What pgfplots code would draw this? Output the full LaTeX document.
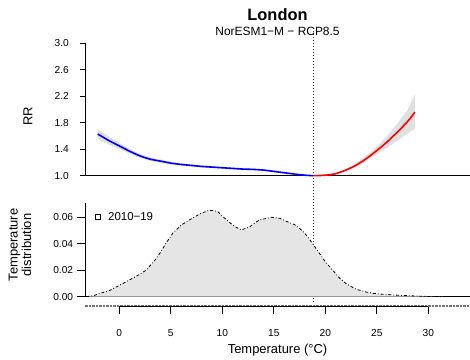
\documentclass[border=0pt]{standalone}
\usepackage{fontspec}
\setmainfont{Liberation Sans}
\usepackage{pgfplots}
\pgfplotsset{compat=1.18}
\usepgfplotslibrary{fillbetween}
\definecolor{band}{RGB}{224,224,224}
\definecolor{dens}{RGB}{229,229,229}
\pgfplotsset{
  common/.style={
    scale only axis, width=385bp,
    xmin=-3.33, xmax=34.05,
    /pgf/number format/assume math mode=true,
    tick align=outside,
    tick style={black, line width=0.8bp},
    axis line style={-, black, line width=0.8bp},
    clip=false,
    ticklabel style={font=\fontsize{10.2}{12}\selectfont, inner sep=0pt},
  }
}
\begin{document}
\begin{tikzpicture}[x=1bp,y=1bp]

% ---------------- top panel: RR ----------------
\begin{axis}[common,
  at={(85bp,183.3bp)}, anchor=south west,
  height=132.4bp, ymin=1, ymax=3,
  axis x line*=bottom, axis y line*=left,
  xtick=\empty,
  ytick={1.0,1.4,1.8,2.2,2.6,3.0},
  major tick length=5bp,
  yticklabel style={anchor=east, xshift=-11bp, /pgf/number format/fixed, /pgf/number format/fixed zerofill, /pgf/number format/precision=1},
]
% blue CI
\addplot[name path=bu, draw=none] coordinates {
(-2.1,1.71) (-1,1.59) (0,1.495) (1,1.405) (2,1.33) (3,1.275) (4,1.242) (5,1.21) (6,1.188) (7,1.171) (8,1.155) (9,1.144) (10,1.133) (11,1.122) (12,1.112) (13,1.106) (14,1.096) (15,1.074) (16,1.053) (17,1.031) (18,1.011) (18.8,1.0)};
\addplot[name path=bl, draw=none] coordinates {
(-2.1,1.55) (-1,1.47) (0,1.405) (1,1.335) (2,1.27) (3,1.225) (4,1.198) (5,1.17) (6,1.152) (7,1.139) (8,1.125) (9,1.116) (10,1.107) (11,1.098) (12,1.088) (13,1.084) (14,1.074) (15,1.056) (16,1.037) (17,1.019) (18,1.005) (18.8,1.0)};
\addplot[band] fill between[of=bu and bl];
% red CI
\addplot[name path=ru, draw=none] coordinates {
(18.8,1.0) (20,1.012) (21,1.04) (22,1.10) (23,1.19) (24,1.30) (25,1.44) (26,1.60) (27,1.79) (28,2.00) (28.7,2.23)};
\addplot[name path=rl, draw=none] coordinates {
(18.8,1.0) (20,1.004) (21,1.02) (22,1.07) (23,1.13) (24,1.22) (25,1.32) (26,1.42) (27,1.53) (28,1.64) (28.7,1.71)};
\addplot[band] fill between[of=ru and rl];
% curves
\addplot[blue, line width=1.6bp, smooth] coordinates {
(-2.1,1.63) (-1,1.53) (0,1.45) (1,1.37) (2,1.30) (3,1.25) (4,1.22) (5,1.19) (6,1.17) (7,1.155) (8,1.14) (9,1.13) (10,1.12) (11,1.11) (12,1.10) (13,1.095) (14,1.085) (15,1.065) (16,1.045) (17,1.025) (18,1.008) (18.8,1.0)};
\addplot[red, line width=1.6bp, smooth] coordinates {
(18.8,1.0) (19.5,1.003) (20.5,1.015) (21,1.03) (22,1.085) (23,1.16) (24,1.26) (25,1.38) (26,1.51) (27,1.66) (28,1.82) (28.7,1.96)};
% reference temperature
\addplot[black!75, line width=0.8bp, dash pattern=on 1bp off 2bp] coordinates {(18.8,3.19) (18.8,-0.90)};
\end{axis}

% ---------------- bottom panel: density ----------------
\begin{axis}[common,
  at={(85bp,62.3bp)}, anchor=south west,
  height=94bp, ymin=0, ymax=0.071,
  axis x line*=bottom, axis y line*=left,
  xtick=\empty,
  ytick={0,0.02,0.04,0.06},
  major tick length=7.7bp,
  yticklabel style={anchor=east, xshift=-4bp, /pgf/number format/fixed, /pgf/number format/fixed zerofill, /pgf/number format/precision=2},
  scaled y ticks=false,
  legend style={at={(0.025,0.845)}, anchor=west, draw=none, fill=none,
    font=\fontsize{11.5}{13}\selectfont, inner sep=0pt},
  legend cell align=left,
]
\addplot[fill=dens, draw=none, forget plot] coordinates {
(-3.2,0) (-2.5,0.0008) (-2.0,0.0022) (-1.0,0.0045) (0.0,0.0085) (1.0,0.0127) (2.0,0.017) (2.6,0.020) (3.5,0.028) (4.0,0.0335) (4.5,0.040) (5.2,0.048) (6.0,0.054) (6.8,0.058) (7.8,0.0624) (8.6,0.065) (9.1,0.0652) (9.6,0.064) (10.4,0.058) (11.2,0.053) (11.85,0.0505) (12.6,0.0525) (13.6,0.058) (14.8,0.060) (15.6,0.0592) (16.2,0.0570) (17.0,0.0545) (17.5,0.0516) (18.0,0.048) (18.5,0.043) (19.0,0.0375) (19.5,0.032) (20.0,0.0264) (20.5,0.022) (21.0,0.0175) (21.4,0.0139) (22.0,0.0100) (23.0,0.0056) (24.0,0.0035) (24.7,0.0025) (25.5,0.0019) (26.3,0.0015) (27.3,0.0010) (28.9,0.0005) (30.0,0.0002) (31.5,0)} \closedcycle;
\addplot[black, line width=0.8bp, dash pattern=on 3bp off 2bp on 0.8bp off 2bp,
  legend image code/.code={\draw[black, line width=0.7bp, solid] (0bp,-2.5bp) rectangle (5bp,2.5bp); \path[draw=none] (0bp,0bp) -- (11bp,0bp);}] coordinates {
(-3.2,0) (-2.5,0.0008) (-2.0,0.0022) (-1.0,0.0045) (0.0,0.0085) (1.0,0.0127) (2.0,0.017) (2.6,0.020) (3.5,0.028) (4.0,0.0335) (4.5,0.040) (5.2,0.048) (6.0,0.054) (6.8,0.058) (7.8,0.0624) (8.6,0.065) (9.1,0.0652) (9.6,0.064) (10.4,0.058) (11.2,0.053) (11.85,0.0505) (12.6,0.0525) (13.6,0.058) (14.8,0.060) (15.6,0.0592) (16.2,0.0570) (17.0,0.0545) (17.5,0.0516) (18.0,0.048) (18.5,0.043) (19.0,0.0375) (19.5,0.032) (20.0,0.0264) (20.5,0.022) (21.0,0.0175) (21.4,0.0139) (22.0,0.0100) (23.0,0.0056) (24.0,0.0035) (24.7,0.0025) (25.5,0.0019) (26.3,0.0015) (27.3,0.0010) (28.9,0.0005) (30.0,0.0002) (31.5,0)};
\addlegendentry{2010−19}
\end{axis}

% ---------------- temperature axis ----------------
\begin{axis}[common,
  at={(85bp,53bp)}, anchor=south west,
  height=20bp, ymin=0, ymax=1,
  axis x line*=bottom, axis y line=none,
  x axis line style={draw=none},
  xtick={0,5,10,15,20,25,30},
  major tick length=8bp,
  xticklabel style={anchor=base, yshift=-22bp},
]
\addplot[black!55, line width=1.3bp, dash pattern=on 2.5bp off 1bp] coordinates {(-3.33,0) (34.05,0)};
\addplot[black, line width=0.8bp] coordinates {(0,0) (30,0)};
\end{axis}

% ---------------- texts ----------------
\node[font=\bfseries\fontsize{16.5}{18}\selectfont, anchor=base] at (277.5,339) {London};
\node[font=\fontsize{12}{14}\selectfont, anchor=base] at (277.5,323.3) {NorESM1−M − RCP8.5};
\node[rotate=90, font=\fontsize{13}{15}\selectfont] at (28,243) {RR};
\node[rotate=90, align=center, font=\fontsize{13}{13.5}\selectfont] at (20,114) {Temperature\\distribution};
\node[font=\fontsize{13}{15}\selectfont, anchor=base] at (277.5,6) {Temperature (°C)};

\pgfresetboundingbox
\path[use as bounding box] (0,0) rectangle (470,359);
\end{tikzpicture}
\end{document}
